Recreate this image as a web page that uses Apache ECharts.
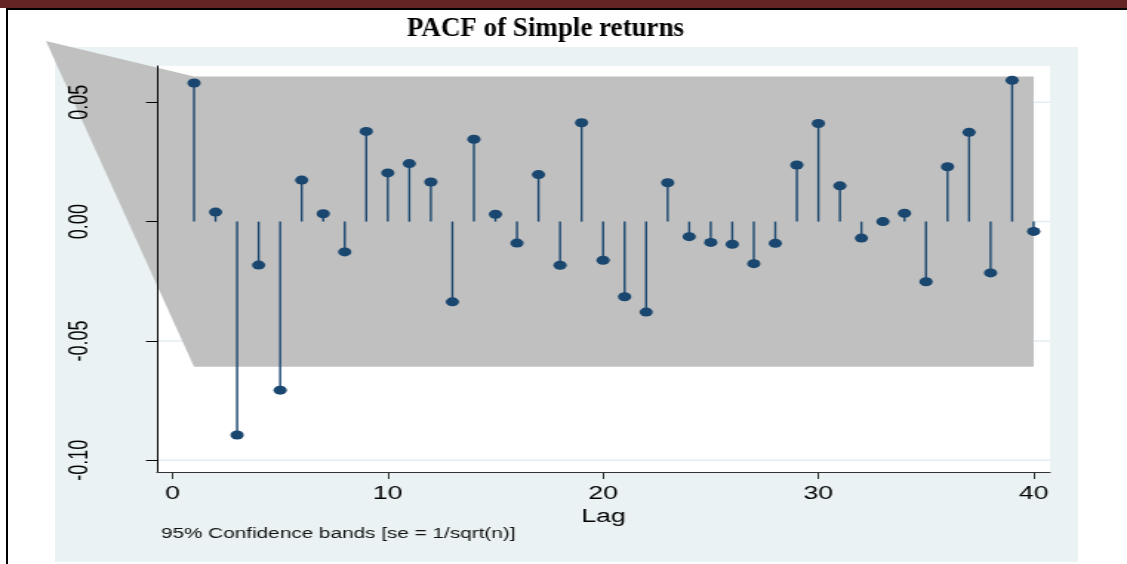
<!DOCTYPE html>
<html>
<head>
<meta charset="utf-8">
<title>PACF of Simple returns</title>
<script src="https://cdn.jsdelivr.net/npm/echarts@6/dist/echarts.min.js"></script>
<style>
  html, body { margin: 0; padding: 0; background: #fff; }
  #page { position: relative; width: 1127px; height: 564px; overflow: hidden; background: #fff; }
  #headerBar { position: absolute; left: 0; top: 0; width: 1127px; height: 8px; background: #632424; }
  #headerRule { position: absolute; left: 6px; top: 8px; width: 1121px; height: 2px; background: #000; }
  #leftRule { position: absolute; left: 6px; top: 8px; width: 2px; height: 556px; background: #000; }
  #panel { position: absolute; left: 55px; top: 47px; width: 1023px; height: 515px; background: #eaf2f3; }
  /* the graph is laid out on a narrower canvas and widened horizontally */
  #chart { position: absolute; left: 0; top: 0; width: 761px; height: 564px;
           transform: scaleX(1.480946); transform-origin: 0 0; }
</style>
</head>
<body>
<div id="page">
  <div id="headerBar"></div>
  <div id="headerRule"></div>
  <div id="leftRule"></div>
  <div id="panel"></div>
  <div id="chart"></div>
</div>
<script>
// Partial autocorrelations of simple returns, lags 1..40
const lags = [1, 2, 3, 4, 5, 6, 7, 8, 9, 10,
              11, 12, 13, 14, 15, 16, 17, 18, 19, 20,
              21, 22, 23, 24, 25, 26, 27, 28, 29, 30,
              31, 32, 33, 34, 35, 36, 37, 38, 39, 40];
const pacf = [0.0581, 0.0040, -0.0894, -0.0182, -0.0706, 0.0174, 0.0033, -0.0127, 0.0378, 0.0204,
              0.0243, 0.0166, -0.0336, 0.0345, 0.0031, -0.0090, 0.0197, -0.0183, 0.0414, -0.0162,
              -0.0315, -0.0379, 0.0163, -0.0063, -0.0087, -0.0095, -0.0176, -0.0091, 0.0237, 0.0411,
              0.0150, -0.0069, 0.0000, 0.0035, -0.0252, 0.0230, 0.0374, -0.0215, 0.0592, -0.0041];

// 95% confidence band outline (se = 1/sqrt(n))
const bandLags  = [-5.88, 1, 40];
const bandUpper = [0.0757, 0.0608, 0.0608];
const bandLower = [0.0757, -0.0608, -0.0608];

// Axis ticks
const xTicks = [0, 10, 20, 30, 40];
const yTicks = [-0.10, -0.05, 0.00, 0.05];

const STRETCH = 1127 / 761;
const sx = v => v / STRETCH;          // page x -> canvas x

const NAVY = '#1a476f';
const FONT = "'Liberation Sans', Arial, Helvetica, sans-serif";

const chart = echarts.init(document.getElementById('chart'), null, { renderer: 'canvas' });

const points = lags.map((l, i) => [l, pacf[i]]);

chart.setOption({
  backgroundColor: 'transparent',
  animation: false,
  tooltip: { show: false },
  grid: {
    left: sx(157), top: 66, width: sx(1050) - sx(157), height: 406,
    show: true, backgroundColor: '#ffffff', borderWidth: 0
  },
  xAxis: {
    type: 'value', min: -0.72, max: 40.76, z: 6,
    axisLine: { show: true, onZero: false, lineStyle: { color: '#333', width: 1 } },
    axisTick: { show: true, customValues: xTicks, length: 7, lineStyle: { color: '#333', width: 1 } },
    axisLabel: { customValues: xTicks, margin: 13, fontSize: 18, fontFamily: FONT, color: '#000' },
    splitLine: { show: false },
    name: 'Lag', nameLocation: 'middle', nameGap: 30,
    nameTextStyle: { fontSize: 18, fontFamily: FONT, color: '#000' }
  },
  yAxis: {
    type: 'value', min: -0.1049, max: 0.0652, z: 6,
    axisLine: { show: true, onZero: false, lineStyle: { color: '#000', width: 1 } },
    axisTick: { show: true, customValues: yTicks, length: sx(11), lineStyle: { color: '#000', width: 1 } },
    axisLabel: {
      customValues: yTicks, rotate: 90, margin: 43,
      formatter: v => Number(v).toFixed(2),
      fontSize: 18, fontFamily: FONT, color: '#000'
    },
    splitLine: { show: false }
  },
  graphic: {
    elements: [
      {
        type: 'text', x: sx(545.5), y: 29, scaleX: 1 / STRETCH, silent: true,
        style: {
          text: 'PACF of Simple returns',
          fontFamily: "'Liberation Serif', 'Times New Roman', serif",
          fontWeight: 'bold', fontSize: 27, fill: '#000',
          align: 'center', verticalAlign: 'middle',
          textAlign: 'center', textVerticalAlign: 'middle'
        }
      },
      {
        type: 'text', x: sx(161), y: 534, silent: true,
        style: {
          text: '95% Confidence bands [se = 1/sqrt(n)]',
          fontFamily: FONT, fontSize: 14, fill: '#111',
          align: 'left', verticalAlign: 'middle',
          textAlign: 'left', textVerticalAlign: 'middle'
        }
      }
    ]
  },
  series: [
    {
      // horizontal grid lines at the y ticks
      type: 'custom', z: 1, silent: true, clip: false,
      data: yTicks.map(v => [0, v]),
      renderItem: (params, api) => {
        const cs = params.coordSys;
        const y = api.coord([0, api.value(1)])[1];
        return {
          type: 'line',
          shape: { x1: cs.x, y1: y, x2: cs.x + cs.width, y2: y },
          style: { stroke: '#e3edf1', lineWidth: 1.5 }
        };
      }
    },
    {
      // confidence band
      type: 'custom', z: 2, silent: true, clip: false,
      data: [[0, 0]],
      renderItem: (params, api) => {
        const pts = [];
        for (let i = 0; i < bandLags.length; i++) pts.push(api.coord([bandLags[i], bandUpper[i]]));
        for (let i = bandLags.length - 1; i >= 0; i--) pts.push(api.coord([bandLags[i], bandLower[i]]));
        return { type: 'polygon', shape: { points: pts }, style: { fill: '#c0c0c0' } };
      }
    },
    {
      // spikes from zero to each partial autocorrelation
      type: 'custom', z: 3, silent: true,
      data: points,
      renderItem: (params, api) => {
        const p0 = api.coord([api.value(0), 0]);
        const p1 = api.coord([api.value(0), api.value(1)]);
        return {
          type: 'line',
          shape: { x1: p0[0], y1: p0[1], x2: p1[0], y2: p1[1] },
          style: { stroke: NAVY, lineWidth: 1.4 }
        };
      }
    },
    {
      type: 'scatter', z: 4, silent: true,
      data: points,
      symbol: 'circle', symbolSize: 9,
      itemStyle: { color: NAVY, opacity: 1 }
    }
  ]
});
</script>
</body>
</html>
